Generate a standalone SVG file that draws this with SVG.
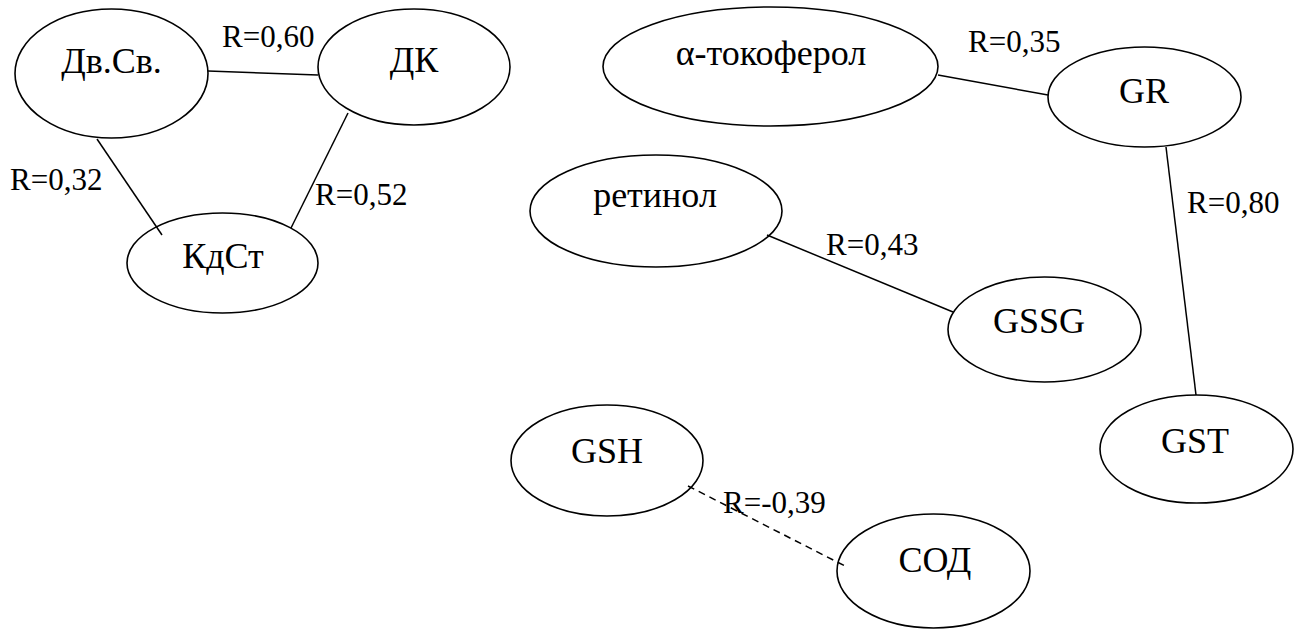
<svg xmlns="http://www.w3.org/2000/svg" width="1304" height="630" viewBox="0 0 1304 630" font-family="'Liberation Serif', 'Times New Roman', serif">
  <style>
    .node ellipse { fill: #ffffff; stroke: #000000; stroke-width: 1.6; }
    .node text { font-family: "Liberation Serif", "Times New Roman", serif; font-size: 36px; fill: #000000; text-anchor: middle; }
    .edge { stroke: #000000; stroke-width: 1.5; fill: none; }
    .edge.neg { stroke-dasharray: 7 5; }
    .lbl { font-family: "Liberation Serif", "Times New Roman", serif; font-size: 31px; fill: #000000; }
  </style>
  <rect width="1304" height="630" fill="#ffffff"/>

  <!-- nodes -->
  <g id="node-dvsv" class="node">
    <ellipse cx="111.5" cy="73.5" rx="96.5" ry="64.5"/>
    <text x="111.5" y="73">Дв.Св.</text>
  </g>
  <g id="node-dk" class="node">
    <ellipse cx="414" cy="67" rx="96" ry="58"/>
    <text x="414" y="72">ДК</text>
  </g>
  <g id="node-kdst" class="node">
    <ellipse cx="222.5" cy="263" rx="95.5" ry="50"/>
    <text x="223" y="268">КдСт</text>
  </g>
  <g id="node-tocopherol" class="node">
    <ellipse cx="770.5" cy="66.5" rx="167.5" ry="59.5"/>
    <text x="771" y="65">α-токоферол</text>
  </g>
  <g id="node-gr" class="node">
    <ellipse cx="1144.5" cy="97" rx="96.5" ry="50"/>
    <text x="1144" y="103">GR</text>
  </g>
  <g id="node-retinol" class="node">
    <ellipse cx="656" cy="211" rx="126" ry="56"/>
    <text x="655" y="207">ретинол</text>
  </g>
  <g id="node-gssg" class="node">
    <ellipse cx="1044.5" cy="329.5" rx="96.5" ry="52.5"/>
    <text x="1039" y="333">GSSG</text>
  </g>
  <g id="node-gst" class="node">
    <ellipse cx="1196.5" cy="449" rx="96.5" ry="54"/>
    <text x="1195" y="453">GST</text>
  </g>
  <g id="node-gsh" class="node">
    <ellipse cx="607" cy="460.5" rx="96" ry="55.5"/>
    <text x="607" y="463">GSH</text>
  </g>
  <g id="node-sod" class="node">
    <ellipse cx="933.5" cy="571" rx="96.5" ry="57"/>
    <text x="935" y="572">СОД</text>
  </g>

  <!-- connectors with correlation coefficients -->
  <g id="connectors">
    <line class="edge" x1="208" y1="71" x2="318" y2="75"/>
    <line class="edge" x1="97" y1="139" x2="162" y2="235"/>
    <line class="edge" x1="348" y1="113" x2="291" y2="228"/>
    <line class="edge" x1="938" y1="75" x2="1048" y2="95"/>
    <line class="edge" x1="1166" y1="147" x2="1196" y2="395"/>
    <line class="edge" x1="767" y1="235" x2="953" y2="312"/>
    <line class="edge neg" x1="688" y1="486" x2="845" y2="566"/>

    <text class="lbl" x="222" y="47">R=0,60</text>
    <text class="lbl" x="10" y="190">R=0,32</text>
    <text class="lbl" x="315" y="205">R=0,52</text>
    <text class="lbl" x="968" y="52">R=0,35</text>
    <text class="lbl" x="1187" y="213">R=0,80</text>
    <text class="lbl" x="826" y="255">R=0,43</text>
    <text class="lbl" x="723" y="513">R=-0,39</text>
  </g>
</svg>
